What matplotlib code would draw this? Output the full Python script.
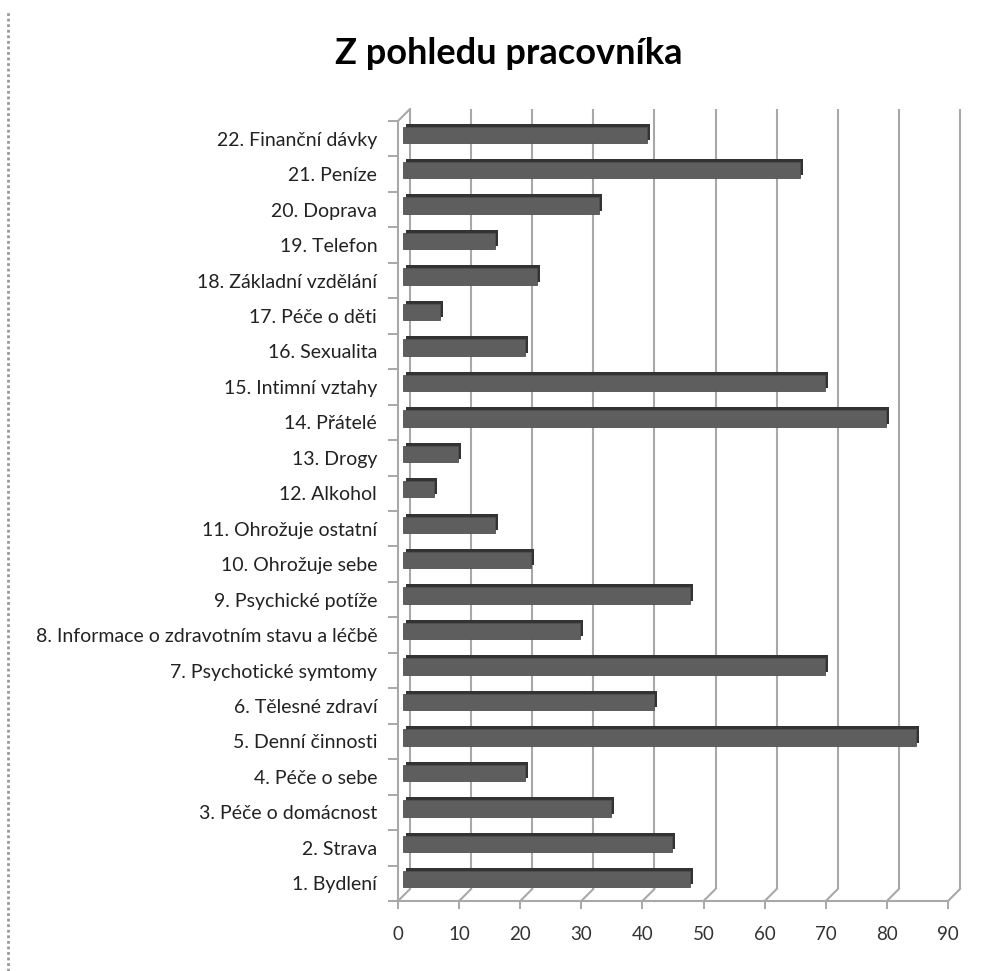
import matplotlib
matplotlib.use("Agg")
import matplotlib.pyplot as plt
from matplotlib.transforms import ScaledTranslation, IdentityTransform
from matplotlib.lines import Line2D
import numpy as np

plt.rcParams['font.family'] = ['Lato', 'DejaVu Sans']

categories = [
    "1. Bydlení", "2. Strava", "3. Péče o domácnost", "4. Péče o sebe",
    "5. Denní činnosti", "6. Tělesné zdraví", "7. Psychotické symtomy",
    "8. Informace o zdravotním stavu a léčbě", "9. Psychické potíže",
    "10. Ohrožuje sebe", "11. Ohrožuje ostatní", "12. Alkohol", "13. Drogy",
    "14. Přátelé", "15. Intimní vztahy", "16. Sexualita", "17. Péče o děti",
    "18. Základní vzdělání", "19. Telefon", "20. Doprava", "21. Peníze",
    "22. Finanční dávky",
]
values = [47, 44, 34, 20, 84, 41, 69, 29, 47, 21, 15, 5, 9, 79, 69, 20, 6, 22, 15, 32, 65, 40]
xticks = [0, 10, 20, 30, 40, 50, 60, 70, 80, 90]
title = "Z pohledu pracovníka"

W, H, DPI = 986, 971, 100
fig = plt.figure(figsize=(W / DPI, H / DPI), dpi=DPI)
fig.patch.set_facecolor("white")

left_px, right_px, top_px, bot_px = 398, 948, 121, 901
ax = fig.add_axes([left_px / W, (H - bot_px) / H, (right_px - left_px) / W, (bot_px - top_px) / H])
ax.set_xlim(0, 90)
ax.set_ylim(-0.5, len(categories) - 0.5)
ax.patch.set_alpha(0)

def off(dx, dy):
    return ScaledTranslation(dx / DPI, dy / DPI, fig.dpi_scale_trans)

grid_col = "#a8a8a8"
depth = 12
# back-wall gridlines
ax.vlines(xticks, -0.5, len(categories) - 0.5, colors=grid_col, linewidth=1.5,
          transform=ax.transData + off(depth, depth), clip_on=False, zorder=1)

ypos = np.arange(len(categories))
# bar back faces (3D side/top)
back = ax.barh(ypos, values, height=0.46, color="#333333", linewidth=0, zorder=3)
for p in back:
    p.set_transform(ax.transData + off(8, 7))
    p.set_clip_on(False)
front = ax.barh(ypos, values, height=0.46, color="#5e5e5e", edgecolor="#505050",
                linewidth=0.6, zorder=4)
for p in front:
    p.set_transform(ax.transData + off(5, 4))
    p.set_clip_on(False)

# axes styling
for s in ["top", "right"]:
    ax.spines[s].set_visible(False)
for s in ["left", "bottom"]:
    ax.spines[s].set_color(grid_col)
    ax.spines[s].set_linewidth(1.5)

ax.set_xticks(xticks)
ax.set_xticklabels([str(t) for t in xticks])
ax.tick_params(axis="x", length=6, width=1.4, color=grid_col, pad=12,
               labelsize=13.5, labelcolor="#333333")
ax.set_yticks(ypos)
ax.set_yticklabels(categories)
ax.tick_params(axis="y", which="major", length=0, pad=15, labelsize=14, labelcolor="#222222")
ax.set_yticks(np.arange(-0.5, len(categories)), minor=True)
ax.tick_params(axis="y", which="minor", length=7, width=1.4, color=grid_col)

# floor diagonals and top-left corner
fig.canvas.draw()
for x in xticks:
    px, py = ax.transData.transform((x, -0.5))
    fig.add_artist(Line2D([px, px + depth], [py, py + depth], transform=IdentityTransform(),
                          color=grid_col, linewidth=1.5))
px, py = ax.transData.transform((0, len(categories) - 0.5))
fig.add_artist(Line2D([px, px + depth], [py, py + depth], transform=IdentityTransform(),
                      color=grid_col, linewidth=1.5))

fig.text(509 / W, 1 - 53 / H, title, ha="center", va="center", fontsize=26,
         fontweight="bold", color="black")

fig.add_artist(Line2D([8 / W, 8 / W], [0, 1 - 12 / H], transform=fig.transFigure,
                      color="#999999", linewidth=2, linestyle=(0, (1, 1))))

fig.savefig("out.png", dpi=DPI, facecolor="white")
